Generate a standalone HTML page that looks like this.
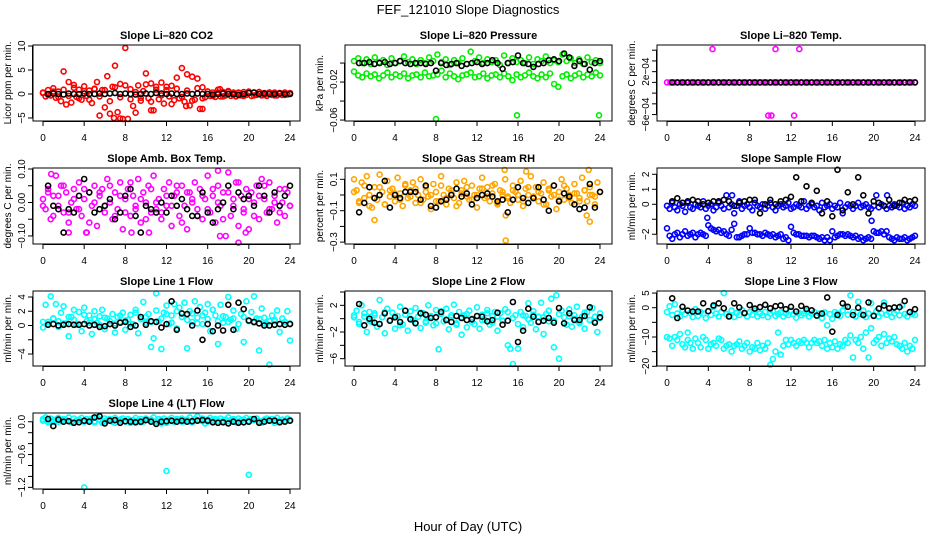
<!DOCTYPE html>
<html><head><meta charset="utf-8">
<style>
html,body{margin:0;padding:0;background:#fff;}
svg{display:block;font-family:"Liberation Sans",Arial,sans-serif;}
</style></head>
<body>
<svg id="fig" width="936" height="540" viewBox="0 0 936 540" xmlns="http://www.w3.org/2000/svg">
<rect width="936" height="540" fill="#fff"/>
<text x="468" y="14" text-anchor="middle" font-size="13">FEF_121010  Slope Diagnostics</text>
<text x="468" y="531" text-anchor="middle" font-size="13">Hour of Day (UTC)</text>
</svg>
<script>
// ---- data ----
const xTicks = [0,4,8,12,16,20,24];
const co2Color = [0.2,-0.5,0.8,-0.3,1.2,-0.8,0.5,-1.5,4.7,-2.2,2.5,-1.8,1.9,-0.6,0.9,-1.2,1.6,-0.4,0.7,-1.9,1.1,2.5,-4.5,0.8,-2.8,3.7,-4.1,1.5,5.9,-3.8,2.1,-5.2,9.6,-5.2,1.0,-2.5,-3.9,1.8,-1.4,0.6,4.3,-0.9,2.2,-3.4,1.5,-1.1,2.4,-2.0,0.8,-0.5,1.7,-1.3,3.4,-0.9,5.4,-1.6,4.1,-2.4,3.6,-1.2,3.2,-3.1,1.4,-0.7,0.5,-0.4,0.3,-0.6,0.9,-0.5,0.4,-0.3,0.6,-0.4,0.3,-0.5,0.2,-0.3,0.4,-0.2,0.5,-0.4,0.3,-0.2,0.4,-0.3,0.2,-0.4,0.3,-0.2,0.3,-0.3,0.2,-0.2,0.3,-0.1,0.2];
const co2Color2 = [0.3,-0.2,0.5,-0.6,0.9,-0.4,1.3,-0.9,0.6,-1.2,1.0,-0.5,0.8,-1.5,1.4,-0.7,1.8,-1.1,0.4,-0.8,2.0,-1.6,0.9,-0.3,1.5,-2.1,1.1,-0.6,0.7,-1.4,1.2,-0.9,0.5,-0.4,0.3,-0.5,0.4,-0.2,0.3,-0.4,0.2,-0.3,0.4,-0.2,0.3,-0.3,0.2,-0.2,0.1];
const co2Black = [0,0.1,0,-0.1,0.1,0,0,0.1,0,0,0.1,0,0.1,0.2,0,0.1,0,-0.1,0,0.1,0,0.2,0.1,0,0.1,0,0,0.1,0,0.1,0,0,-0.1,0,0.1,0,0,-0.2,0,0.2,0.3,0,0.1,0,0,0.1,0,0];
const co2Out = [[6.9,-5.0],[7.5,-5.1],[10.5,-3.4],[15.5,-3.1],[13.9,-2.5],[17.2,1.0]];

const presColor = [2,5,0,4,-1,6,1,3,-2,5,0,2,7,1,4,-1,3,0,6,2,9,1,4,-2,3,0,5,-1,12,2,6,0,4,1,3,-2,8,0,5,1,3,0,6,-1,4,2,7,0,3,1,9,2,5,0,4,-1,6,1,3,0];
const presColor2 = [-9,-13,-15,-11,-14,-12,-16,-13,-10,-15,-12,-14,-11,-16,-13,-12,-15,-10,-14,-13,-12,-8,-15,-11,-14,-17,-13,-12,-10,-15,-14,-11,-16,-13,-12,-15,-11,-14,-18,-12,-15,-13,-10,-14,-16,-12,-15,-11,-22,-25,-14,-12,-16,-13,-11,-15,-12,-14,-10,-13];
const presBlack = [0,0,1,-1,0,1,-1,0,2,0,-1,0,0,-1,0,-8,0,-2,-1,0,-3,-1,0,1,-1,0,3,0,-6,0,1,8,0,-1,-4,-1,0,3,4,2,10,6,-3,2,-1,-7,0,2];
const presOut = [[8.0,-59],[15.9,-55],[23.9,-55]];

const tempColor = [0,0,0,0,0,0,0,0,0,0,0,0,0,0,0,0,0,0,0,0,0,0,0,0,0,0,0,0,0,0,0,0,0,0,0,0,0,0,0,0,0,0,0,0,0,0,0,0,0,0,0,0,0,0,0,0,0,0,0,0,0,0,0,0,0,0,0,0,0,0,0,0,0];
const tempBlack = [0,0,0,0,0,0,0,0,0,0,0,0,0,0,0,0,0,0,0,0,0,0,0,0,0,0,0,0,0,0,0,0,0,0,0,0,0,0,0,0,0,0,0,0,0,0,0,0];
const tempOut = [[4.4,6.2],[10.5,6.2],[12.8,6.2],[9.8,-6.2],[10.1,-6.2],[12.3,-6.2]];

const ambColor = [1,-2,4,-5,2,8,-1,5,-3,3,-6,0,4,-2,6,-4,1,-9,3,-1,5,-7,2,4,-3,7,0,-5,3,-2,6,-8,1,4,-4,2,-1,7,-6,3,0,5,-3,8,-2,1,-5,4,-1,6,-7,2,3,-4,5,-1,-8,3,0,6,-2,4,-5,1,8,-3,2,-6,5,-1,3,-10,9,-4,1,6,-7,2,-2,4,-8,3,0,5,-5,7,1,-3,6,-2,2,-6,4,0,-4,3,-1];
const ambColor2 = [-1,3,-4,2,5,-3,1,-2,4,-6,0,3,-1,5,-4,2,-3,6,-2,1,-5,4,0,-3,2,-1,5,-6,3,1,-4,2,-2,4,0,-5,3,-1,6,-3,1,-4,2,5,-2,0,-3,4,-1];
const ambBlack = [5,-1,-2,-9,-2,-3,2,7,3,-3,-2,-1,1,-5,-3,2,4,-4,-9,-1,-2,-3,0,-3,2,-1,1,-2,-4,-4,3,-3,-6,-2,0,5,-2,3,1,2,-1,5,2,-3,3,-1,2,5];
const ambOut = [[0.8,8.5],[17,9.5],[2.5,-9],[4.2,-9],[8.6,-9],[10.3,-9],[19,-12],[17.2,-10],[19.7,-9]];

const rhColor = [10,3,-5,8,-2,12,0,-8,5,-3,13,2,-6,9,-1,4,-4,11,1,-7,6,-2,3,8,-5,0,10,-3,5,-1,-9,7,2,-4,12,0,-6,4,1,-2,8,-5,3,9,-1,-3,6,0,-8,4,11,-2,5,-4,1,7,-6,3,0,10,-1,-5,6,2,-3,9,-7,4,0,12,-2,5,-4,1,8,-6,3,-1,6,-9,2,10,-3,4,0,-5,7,1,-2,11,3,-4,5,0,-6,8,2];
const rhColor2 = [2,-4,6,0,-2,5,-6,3,1,-3,7,-1,4,-5,2,0,-4,6,-2,3,-7,1,5,-3,0,4,-1,6,-5,2,-2,3,0,-4,5,-1,2,-6,4,0,-3,6,-2,1,-4,3,0,-1,2];
const rhBlack = [-11,-5,5,-2,0,9,-8,0,-2,2,2,2,-3,6,-7,-8,-4,-3,0,4,-1,1,-6,-2,0,1,-1,-4,-3,-11,-3,5,-2,-5,-2,5,-3,-10,6,-4,1,-1,-6,-9,-8,7,-8,2];
const rhOut = [[14.8,-29],[2,-16],[14.8,-13],[23,-17],[22.7,-13],[1.5,-7],[14.7,16],[22.9,16],[16.8,15]];

const sfColor = [-0.1,-0.3,0.1,-0.2,-0.4,0,-0.1,-0.5,0.1,-0.2,-0.3,0,-0.1,-0.2,0.2,-0.3,-0.1,0,-0.4,-0.2,0.1,-0.1,-0.3,0.6,-0.2,0,-0.6,-0.1,0.2,-0.3,-0.1,0,-0.2,-0.4,0.1,-0.1,-0.2,0,-0.3,-0.1,0.1,-0.2,-0.4,-0.1,0,-0.2,-0.1,0.1,-0.3,-0.2,0,-0.1,-0.2,0.2,-0.3,-0.1,0,-0.2,-0.1,-0.4,0.1,-0.2,-0.1,0,-0.3,-0.1,-0.2,0.1,-0.6,-0.2,0,-0.1,-0.3,-0.1,0.1,-0.2,-0.1,0,-0.2,-0.3,-0.1,0.6,-0.2,0,-0.1,-0.3,-0.1,-0.2,0,-0.1,-0.2,0.1,-0.3,-0.1,-0.2,0,-0.1];
const sfColor2 = [-1.6,-2.1,-2.3,-2.0,-1.9,-2.2,-2.0,-1.8,-2.1,-2.0,-1.9,-2.2,-2.0,-1.9,-2.0,-2.1,-1.4,-1.6,-1.7,-1.8,-1.7,-1.9,-1.8,-2.0,-2.1,-1.7,-1.3,-2.2,-2.2,-2.1,-2.0,-2.0,-1.6,-1.9,-1.9,-2.0,-2.0,-2.1,-1.9,-2.0,-2.1,-2.0,-2.2,-2.1,-2.0,-2.3,-2.2,-2.4,-1.5,-1.9,-2.0,-2.0,-2.1,-2.1,-2.1,-2.2,-2.1,-2.1,-2.2,-2.3,-2.2,-2.4,-2.2,-2.4,-1.8,-2.2,-2.1,-2.0,-2.0,-2.1,-2.0,-2.1,-2.2,-2.1,-2.3,-2.2,-2.4,-2.3,-2.2,-2.3,-1.8,-1.9,-1.9,-1.8,-2.0,-1.8,-2.2,-2.3,-2.4,-2.2,-2.3,-2.3,-2.2,-2.4,-2.3,-2.2,-2.1];
const sfBlack = [0.2,0.4,0.1,0.2,0.3,0.2,0,0.1,0.2,0.2,0.3,0.2,-0.1,0.1,0.2,0.3,0.3,-0.6,0,0.3,0,0.2,0.3,0.5,1.8,0.2,1.2,0.1,0.9,-0.6,0.2,-0.8,2.3,-0.4,0.8,0,1.8,0.6,-0.6,0.2,0.1,-0.1,0.3,-0.1,0.1,0.3,0.2,0.3];
const sfOut = [[3.9,-0.9],[6.3,0.6],[19.8,-1.1],[21.3,0.6]];

const l1Color = [-0.3,2.9,0.5,4.1,1.0,3.0,-0.2,1.8,2.7,0.3,-1.5,1.2,2.2,0.1,1.9,-0.8,2.5,0.6,1.4,-1.2,2.0,0.4,1.3,2.2,-0.5,1.0,0.2,1.6,-1.0,1.2,0.5,1.8,-0.6,0.8,1.5,0.2,2.2,-1.1,0.9,3.3,0.4,1.6,-3.0,-1.8,4.5,0.6,-3.3,1.8,2.8,0.2,1.4,3.0,-0.4,2.5,1.2,3.2,-3.2,2.0,0.5,3.4,1.1,2.6,0.2,1.8,3.0,-0.8,2.2,1.4,-2.6,2.9,0.4,1.2,4.0,0.8,2.1,-0.5,3.2,1.6,-2.3,3.4,0.6,1.9,4.1,1.0,-3.5,2.4,1.1,0.3,-5.5,1.4,0.6,2.1,-0.9,1.0,0.5,2.0,-2.1];
const l1Color2 = [0.5,0.2,1.0,0.6,0.3,1.2,0.8,0.2,1.5,0.4,0.9,0.1,1.1,0.6,0.3,1.4,0.7,0.2,1.8,0.9,1.2,0.5,2.1,1.0,1.6,0.4,2.0,1.2,0.8,1.7,0.3,1.4,0.9,2.2,0.6,1.3,0.5,1.0,0.2,1.2,0.7,0.4,0.9,0.3,0.6,0.8,0.2,0.5,0.3];
const l1Black = [0.1,0.2,0,0.1,0.2,0.1,0.1,0.2,0,0.1,-0.2,-0.1,0.2,0,0.4,0.5,-0.2,0,1.2,0.1,0.6,0.5,-0.3,0.2,3.4,-0.6,1.7,1.6,0,2.1,-2.0,0.2,-0.8,0,-0.7,2.9,-0.6,3.2,2.3,0.7,0.5,0.3,0,0,0.1,0.2,0.1,0.2];

const l2Color = [0.5,1.2,-0.8,2.0,0.3,-2.0,1.0,-0.5,0.8,-1.2,2.8,0.2,-2.2,1.5,-0.3,0.9,-1.5,0.4,1.8,-0.9,0.6,-1.8,1.1,-0.2,1.6,0.3,-1.4,0.8,-0.6,2.0,0.4,-1.0,1.3,-4.6,0.7,-0.4,1.5,-1.6,0.2,2.1,-0.7,1.0,-2.4,0.5,-1.3,1.2,0,-0.8,1.7,-1.5,0.6,-0.2,1.3,-0.9,0.4,1.0,-1.8,0.8,-0.3,1.4,-4.0,-4.5,-6.8,0.5,-4.5,1.0,-1.3,0.4,2.3,-0.6,1.1,-1.6,0.3,2.4,-2.3,0.7,-0.4,3.0,-4.3,3.5,-6.0,1.2,0.2,-0.9,1.4,-1.2,0.5,1.8,-0.7,0.3,-1.5,1.0,-0.2,1.6,-0.4,-2.0,0.8];
const l2Color2 = [0.2,-0.5,0.8,-0.3,0.5,-0.8,1.0,-0.2,0.4,-1.0,0.6,0,-0.6,0.9,-0.4,0.3,-0.7,1.1,-0.1,0.5,-0.9,0.2,0.7,-0.5,0.4,-0.2,0.8,-0.6,0.3,-0.3,1.0,0.1,-0.8,0.5,-0.1,0.6,-0.4,0.2,1.2,-0.3,0.7,-0.7,0.4,0,-0.5,0.9,-0.2,0.3,0.1];
const l2Black = [2.2,-1.0,0,-0.6,-0.8,0.8,-0.3,0.2,-0.5,1.2,-0.1,-0.7,0.8,0.6,0.1,0.2,1.0,-0.2,-0.5,0.4,0.1,-0.2,-0.1,0.4,0.3,-0.4,-0.2,0.9,-0.9,-0.3,2.5,-3.5,-1.8,1.5,0.3,-0.5,-0.3,0.1,-0.6,1.6,-0.7,0.8,-0.2,-0.2,0.4,1.7,-0.6,0.2];

const l3Color = [-1.5,0.5,-2.5,1.2,-2.0,-3.0,-1.0,-2.2,-8.5,-1.8,-3.2,-0.5,-2.8,-1.5,-2.0,-3.5,-1.2,-2.5,0.2,-2.0,-3.0,-1.5,5.0,-2.2,-2.8,-1.0,-3.2,-1.8,-2.5,-0.8,-2.0,-3.0,-1.5,-2.4,-1.0,-3.0,-2.0,-2.6,-1.4,-3.2,-2.0,-1.2,-2.8,-2.2,-1.6,-3.0,-2.0,-2.5,-1.0,-2.2,-3.4,-1.8,-2.6,-2.0,-1.2,-3.0,-2.2,-1.5,-2.8,-2.0,-3.5,-1.6,-6.0,-2.2,-3.8,-1.5,-2.0,-2.8,-1.0,0.5,-2.4,4.2,-1.5,-3.0,2.0,-2.2,-1.0,-3.2,-2.0,1.5,-2.6,-1.2,-3.0,-2.0,1.8,-2.4,-1.5,-3.2,-2.0,-1.0,-2.6,0.8,-2.2,-3.0,-1.5,-2.0,-2.5];
const l3Color2 = [-10,-10.5,-13,-10,-11,-9,-12.5,-13.5,-11,-12,-14,-10.5,-12,-13.5,-10,-11,-14,-12.5,-12,-13,-10.5,-11,-14,-13,-12.5,-15,-13,-12.5,-11.5,-14,-13,-12,-15,-13.5,-14,-12,-14.5,-13,-14,-12,-19.5,-17.5,-15,-8.5,-16,-13,-11,-12.5,-11,-12,-13,-11.5,-12,-11,-12,-13.5,-12,-11,-12,-11.5,-13,-11,-14,-12,-13.5,-11.5,-14,-12.5,-13,-11,-12,-9.5,-17,-11,-12,-10,-14,-8.5,-17,-7,-12,-11,-10,-13,-9,-12,-10.5,-11.5,-10,-12.5,-13,-14,-12,-15,-13,-14,-11];
const l3Black = [3.2,-3.5,0.3,-1.0,-1.3,-1.3,1.5,-1.2,0.8,1.5,-0.2,-3.0,1.5,0.1,-1.8,0.9,-0.3,0.2,1.0,-0.2,0.5,0.8,-0.5,0.3,-1.3,0.6,-0.4,-0.9,-2.7,-2.0,3.5,-8.2,-2.5,1.5,0.3,-2.5,0.0,-2.5,1.8,-2.8,-0.3,0.7,-0.2,0.1,0.2,2.3,-1.5,-0.5];

const l4Color = [0.05,0.08,0.02,0.06,0.0,0.04,0.07,0.01,0.05,0.03,0.08,-0.01,0.06,0.02,0.04,0.07,0.0,0.05,0.03,0.06,0.01,0.08,0.04,-0.02,0.06,0.03,0.05,0.0,0.07,0.02,0.04,0.06,0.01,0.05,-0.02,0.03,0.07,0.02,0.05,0.0,0.06,0.03,0.04,0.08,0.01,0.05,-0.03,0.06,0.02,0.04,0.07,0.0,0.05,0.03,0.06,0.01,0.04,0.08,0.02,0.05,0.1,0.03,0.06,-0.03,0.04,0.07,0.01,0.05,0.02,0.06,0.0,0.04,0.08,0.03,0.05,-0.01,0.06,0.02,0.04,0.07,0.0,0.05,0.03,0.06,0.01,-0.02,0.04,0.06,0.02,0.05,0.03,0.07,0.01,0.04,0.02,0.06,0.03];
const l4Color2 = [0.02,-0.01,0.03,0.0,0.04,0.01,-0.02,0.03,0.0,0.02,-0.01,0.04,0.01,0.03,-0.02,0.02,0.0,0.03,0.01,-0.01,0.04,0.02,0.0,0.03,-0.02,0.01,0.04,0.0,0.02,-0.01,0.03,0.01,0.0,0.04,-0.02,0.02,0.01,0.03,0.0,-0.01,0.02,0.04,0.01,0.0,0.03,-0.02,0.02,0.01,0.03];
const l4Black = [0.05,-0.08,0.04,0.0,0.01,-0.02,-0.01,0.02,0.0,0.08,0.1,-0.03,0.02,0.03,-0.02,0.01,0.0,-0.01,0.0,0.03,0.0,-0.04,0.0,0.01,0.02,0.0,0.02,0.0,0.01,0.02,0.03,0.02,-0.01,-0.02,-0.01,-0.03,0.0,-0.02,-0.01,0.0,0.05,-0.02,0.0,0.02,0.02,-0.01,0.0,0.02];
const l4Out = [[4.0,-1.2],[12.0,-0.9],[20.0,-0.97]];

// ---- layout (pixel frames) ----
const colX = [[33,300,43,290],[345,612,354,600],[657,925,667,915]];
const rowY = [[45,121],[168,244],[291,366],[413,489]];

const panels = [
 {name:'co2',title:'Slope Li\u2013820 CO2',ylab:'Licor ppm per min.',c:0,r:0,ymin:-5.63,ymax:10.21,ticks:[-5,0,5,10],labels:['\u22125','0','5','10'],col:'#ff0000',a:co2Color,b:co2Color2,k:co2Black,o:co2Out,s:1},
 {name:'pressure',title:'Slope Li\u2013820 Pressure',ylab:'kPa per min.',c:1,r:0,ymin:-0.061,ymax:0.019,ticks:[-0.06,-0.04,-0.02,0],labels:['\u22120.06','','\u22120.02',''],col:'#00ee00',a:presColor,b:presColor2,k:presBlack,o:presOut,s:0.001},
 {name:'temp',title:'Slope Li\u2013820 Temp.',ylab:'degrees C per min.',c:2,r:0,ymin:-7.2e-4,ymax:6.97e-4,ticks:[-6e-4,-4e-4,-2e-4,0,2e-4,4e-4,6e-4],labels:['\u22126e\u221204','','','','2e\u221204','',''],col:'#ff00ff',a:tempColor,b:[],k:tempBlack,o:tempOut,s:1e-4},
 {name:'amb-box-temp',title:'Slope Amb. Box Temp.',ylab:'degrees C per min.',c:0,r:1,ymin:-0.124,ymax:0.103,ticks:[-0.1,-0.05,0,0.05,0.1],labels:['\u22120.10','','0.00','','0.10'],col:'#ff00ff',a:ambColor,b:ambColor2,k:ambBlack,o:ambOut,s:0.01},
 {name:'gas-stream-rh',title:'Slope Gas Stream RH',ylab:'percent per min.',c:1,r:1,ymin:-0.312,ymax:0.172,ticks:[-0.3,-0.2,-0.1,0,0.1],labels:['\u22120.3','','\u22120.1','','0.1'],col:'#ffa500',a:rhColor,b:rhColor2,k:rhBlack,o:rhOut,s:0.01},
 {name:'sample-flow',title:'Slope Sample Flow',ylab:'ml/min per min.',c:2,r:1,ymin:-2.65,ymax:2.42,ticks:[-2,-1,0,1,2],labels:['\u22122','','0','1','2'],col:'#0000ff',a:sfColor,b:sfColor2,k:sfBlack,o:sfOut,s:1},
 {name:'line1-flow',title:'Slope Line 1 Flow',ylab:'ml/min per min.',c:0,r:2,ymin:-5.68,ymax:4.84,ticks:[-4,-2,0,2,4],labels:['\u22124','','0','2','4'],col:'#00ffff',a:l1Color,b:l1Color2,k:l1Black,o:[],s:1},
 {name:'line2-flow',title:'Slope Line 2 Flow',ylab:'ml/min per min.',c:1,r:2,ymin:-7.1,ymax:4.15,ticks:[-6,-4,-2,0,2,4],labels:['\u22126','','\u22122','','2',''],col:'#00ffff',a:l2Color,b:l2Color2,k:l2Black,o:[],s:1},
 {name:'line3-flow',title:'Slope Line 3 Flow',ylab:'ml/min per min.',c:2,r:2,ymin:-19.9,ymax:5.7,ticks:[-20,-15,-10,-5,0,5],labels:['\u221220','','\u221210','','0','5'],col:'#00ffff',a:l3Color,b:l3Color2,k:l3Black,o:[],s:1},
 {name:'line4-flow',title:'Slope Line 4 (LT) Flow',ylab:'ml/min per min.',c:0,r:3,ymin:-1.23,ymax:0.16,ticks:[-1.2,-1.0,-0.8,-0.6,-0.4,-0.2,0],labels:['\u22121.2','','','\u22120.6','','','0.0'],col:'#00ffff',a:l4Color,b:l4Color2,k:l4Black,o:l4Out,s:1}
];

const NS='http://www.w3.org/2000/svg';
const svg=document.getElementById('fig');
function mk(tag,attrs,parent){const e=document.createElementNS(NS,tag);for(const k in attrs)e.setAttribute(k,attrs[k]);(parent||svg).appendChild(e);return e;}

panels.forEach(p=>{
  const [fl,fr,x0,x24]=colX[p.c];
  const [ft,fb]=rowY[p.r];
  const sx=h=>x0+(x24-x0)*h/24;
  const sy=v=>fb-(v-p.ymin)/(p.ymax-p.ymin)*(fb-ft);
  const g=mk('g',{});
  
  
  const t=mk('text',{x:(fl+fr)/2,y:ft-6,'text-anchor':'middle','font-size':'11','font-weight':'bold'},g);
  t.textContent=p.title;
  
  
  const pts=mk('g',{fill:'none','stroke-width':'1.6'},g);
  
  
  const dot=(h,v,col,nm)=>{const c=mk('circle',{cx:sx(h).toFixed(1),cy:sy(v).toFixed(1),r:2.5,stroke:col},pts);
    
    };
  p.a.forEach((v,i)=>dot(24*i/(p.a.length-1),v*p.s,p.col,p.name+'-point'));
  p.b.forEach((v,i)=>dot(24*i/(p.b.length-1),v*p.s,p.col,p.name+'-point'));
  p.o.forEach(q=>dot(q[0],q[1]*p.s,p.col,p.name+'-outlier'));
  p.k.forEach((v,i)=>dot(0.5*(i+1),v*p.s,'#000',p.name+'-black-point'));
  const fr_=mk('rect',{x:fl,y:ft,width:fr-fl,height:fb-ft,fill:'none',stroke:'#000','stroke-width':'1'},g);
  
  
  const xa=mk('g',{},g);
  
  
  mk('line',{x1:sx(0),x2:sx(24),y1:fb+0.5,y2:fb+0.5,stroke:'#000'},xa);
  xTicks.forEach(h=>{
    mk('line',{x1:sx(h),x2:sx(h),y1:fb,y2:fb+5,stroke:'#000'},xa);
    const tl=mk('text',{x:sx(h),y:fb+20,'text-anchor':'middle','font-size':'10'},xa);
    tl.textContent=h;
  });
  const ya=mk('g',{},g);
  
  
  mk('line',{x1:fl-0.5,x2:fl-0.5,y1:sy(p.ticks[0]),y2:sy(p.ticks[p.ticks.length-1]),stroke:'#000'},ya);
  p.ticks.forEach((v,i)=>{
    const yy=sy(v);
    mk('line',{x1:fl-5,x2:fl,y1:yy,y2:yy,stroke:'#000'},ya);
    if(p.labels[i]){
      const tl=mk('text',{x:fl-8,y:yy,'text-anchor':'middle','font-size':'10',transform:`rotate(-90 ${fl-8} ${yy})`},ya);
      tl.textContent=p.labels[i];
    }
  });
  const yl=mk('text',{x:fl-22,y:(ft+fb)/2,'text-anchor':'middle','font-size':'10',transform:`rotate(-90 ${fl-22} ${(ft+fb)/2})`},g);
  yl.textContent=p.ylab;
  
  
});
</script>
</body></html>
